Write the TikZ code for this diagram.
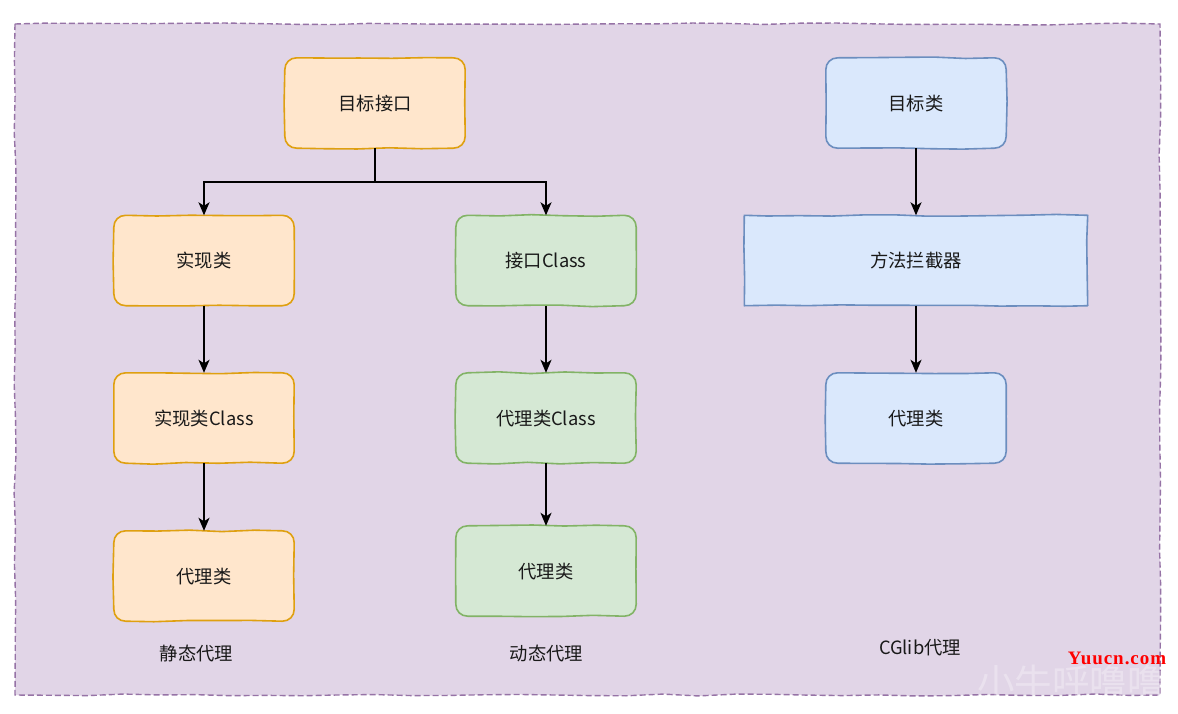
\documentclass[tikz,border=0pt]{standalone}
\usepackage{fontspec}
\setmainfont{Noto Sans CJK SC}
\newfontfamily\wmfont[LetterSpace=5]{Liberation Serif}
\usetikzlibrary{arrows.meta,decorations.pathmorphing}
\pgfdeclarelayer{bg}\pgfsetlayers{bg,main}
\definecolor{ofill}{HTML}{FFE6CC}\definecolor{oline}{HTML}{DFA010}
\definecolor{gfill}{HTML}{D5E8D4}\definecolor{gline}{HTML}{82B366}
\definecolor{bfill}{HTML}{DAE8FC}\definecolor{bline}{HTML}{6C8EBF}
\definecolor{pfill}{HTML}{E1D5E7}\definecolor{pline}{HTML}{9673A6}
\tikzset{
  x=1pt,y=-1pt,
  wob/.style={decoration={random steps,segment length=32pt,amplitude=1pt}},
  box/.style={rectangle,minimum width=180pt,minimum height=90pt,inner sep=0pt,font=\fontsize{18.3}{20}\selectfont,text=black!90,
     text height=17pt,text depth=2.2pt},
  sbox/.style={box,minimum width=343pt},
  outline/.style={line width=1.6pt,line join=round,wob},
  oshape/.style={outline,draw=oline,fill=ofill},
  gshape/.style={outline,draw=gline,fill=gfill},
  bshape/.style={outline,draw=bline,fill=bfill},
  captxt/.style={font=\fontsize{18.3}{20}\selectfont,text=black!90},
  link/.style={line width=1.6pt,black,-{Stealth[length=13pt,width=11pt,inset=3.5pt]}},
  stem/.style={line width=1.6pt,black},
}
% rounded box outline drawn on the layer under the node's text
\newcommand{\wobbox}[2]{%
\begin{pgfonlayer}{bg}
\draw[#2] ([xshift=12pt]#1.north west)
  decorate {-- ([xshift=-12pt]#1.north east)}
  .. controls ([xshift=-5pt]#1.north east) and ([yshift=-5pt]#1.north east) .. ([yshift=-12pt]#1.north east)
  decorate {-- ([yshift=12pt]#1.south east)}
  .. controls ([yshift=5pt]#1.south east) and ([xshift=-5pt]#1.south east) .. ([xshift=-12pt]#1.south east)
  decorate {-- ([xshift=12pt]#1.south west)}
  .. controls ([xshift=5pt]#1.south west) and ([yshift=5pt]#1.south west) .. ([yshift=12pt]#1.south west)
  decorate {-- ([yshift=-12pt]#1.north west)}
  .. controls ([yshift=-5pt]#1.north west) and ([xshift=5pt]#1.north west) .. ([xshift=12pt]#1.north west) -- cycle;
\end{pgfonlayer}}
\begin{document}
\begin{tikzpicture}
\pgfmathsetseed{42}
\useasboundingbox (0,0) rectangle (1178,713);
\begin{pgfonlayer}{bg}
\fill[white] (0,0) rectangle (1178,713);
\draw[fill=pfill,draw=pline,line width=1.4pt,dash pattern=on 6pt off 3pt,
  decorate,decoration={random steps,segment length=36pt,amplitude=1pt}]
  (15,24) rectangle (1160,695);
\end{pgfonlayer}

\node[box] (goal) at (375,103) {目标接口};
\node[box] (impl) at (204,260.5) {实现类};
\node[box] (implc) at (204,418) {实现类Class};
\node[box] (sproxy) at (204,576) {代理类};
\node[box] (ifc) at (546,260.5) {接口Class};
\node[box] (proxyc) at (546,418) {代理类Class};
\node[box] (dproxy) at (546,571) {代理类};
\node[box] (tcls) at (916,103) {目标类};
\node[sbox] (mi) at (916,260.5) {方法拦截器};
\node[box] (cproxy) at (916,418) {代理类};

\wobbox{goal}{oshape}
\wobbox{impl}{oshape}
\wobbox{implc}{oshape}
\wobbox{sproxy}{oshape}
\wobbox{ifc}{gshape}
\wobbox{proxyc}{gshape}
\wobbox{dproxy}{gshape}
\wobbox{tcls}{bshape}
\wobbox{cproxy}{bshape}
\begin{pgfonlayer}{bg}
\draw[bshape,decorate] (mi.north west) rectangle (mi.south east);
\end{pgfonlayer}

\node[captxt] (l1) at (196.5,654) {静态代理};
\node[captxt] (l2) at (546.5,654) {动态代理};
\node[captxt] (l3) at (920,648) {CGlib代理};

\coordinate (bus) at (375,182);
\draw[stem] (goal.south) -- (bus);
\draw[link] (bus) -| (impl.north);
\draw[link] (bus) -| (ifc.north);
\draw[link] (impl) -- (implc);
\draw[link] (implc) -- (sproxy);
\draw[link] (ifc) -- (proxyc);
\draw[link] (proxyc) -- (dproxy);
\draw[link] (tcls) -- (mi);
\draw[link] (mi) -- (cproxy);

\node[text=white,opacity=0.3,inner sep=0pt,text height=28pt,text depth=0pt,font=\fontsize{37.5}{40}\selectfont] (wm2) at (1071,682) {小牛呼噜噜};
\node[text=red,inner sep=0pt,font=\wmfont\bfseries\fontsize{19}{21}\selectfont] (wm1) at (1117,658) {Yuucn.com};
\end{tikzpicture}
\end{document}
